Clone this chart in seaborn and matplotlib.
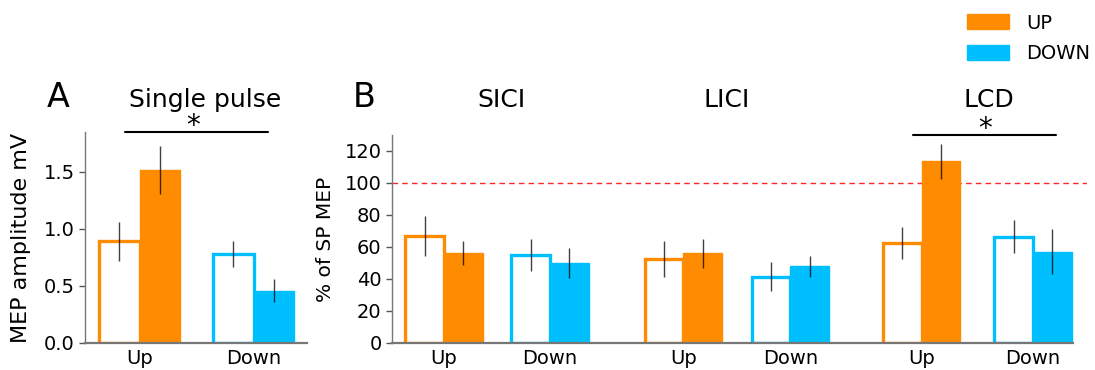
import matplotlib.pyplot as plt
import matplotlib.transforms as mtransforms
from matplotlib.patches import Patch
import seaborn as sns

UP_COLOR = '#ff8c00'
DOWN_COLOR = '#00bfff'

# Panel A: single pulse MEP amplitude (mV), open = pre, filled = post
sp_groups = ['Up', 'Down']
sp_pre = [0.89, 0.78]
sp_pre_err = [0.17, 0.11]
sp_post = [1.52, 0.46]
sp_post_err = [0.21, 0.10]

# Panel B: paired pulse MEP as % of single pulse MEP
pp_protocols = ['SICI', 'LICI', 'LCD']
pp_groups = ['Up', 'Down', 'Up', 'Down', 'Up', 'Down']
pp_pre = [67, 55, 52.5, 41.5, 62.5, 66.5]
pp_pre_err = [12.5, 10, 11, 9, 10, 10.5]
pp_post = [56.5, 50, 56, 48, 113.5, 57]
pp_post_err = [7.5, 9.5, 9, 6.5, 11, 14]

# layout (bar pair centres along x)
sp_centers = [0, 1]
pp_centers = [0, 1.01, 2.28, 3.3, 4.55, 5.61]
pp_title_x = [0.55, 2.69, 5.19]


def draw_pairs(ax, centers, groups, pre, pre_err, post, post_err, width):
    colors = [UP_COLOR if g == 'Up' else DOWN_COLOR for g in groups]
    left = [c - width / 2 for c in centers]
    right = [c + width / 2 for c in centers]
    ax.bar(left, pre, width, facecolor='white', edgecolor=colors, linewidth=2.4, zorder=2)
    ax.bar(right, post, width, color=colors, edgecolor=colors, linewidth=1, zorder=2)
    ax.errorbar(left, pre, yerr=pre_err, fmt='none', ecolor='black', elinewidth=1, alpha=0.75, zorder=3)
    ax.errorbar(right, post, yerr=post_err, fmt='none', ecolor='black', elinewidth=1, alpha=0.75, zorder=3)
    ax.set_xticks(centers)
    ax.set_xticklabels(groups)


sns.set_style('ticks')
plt.rcParams['font.family'] = ['DejaVu Sans']
plt.rcParams['text.color'] = 'black'
plt.rcParams['axes.labelcolor'] = 'black'
plt.rcParams['xtick.color'] = 'black'
plt.rcParams['ytick.color'] = 'black'

fig = plt.figure(figsize=(10.95, 3.7), dpi=100)
ax_a = fig.add_axes([85 / 1095, 27 / 370, 222 / 1095, 211 / 370])
ax_b = fig.add_axes([392 / 1095, 27 / 370, 695 / 1095, 208 / 370])

draw_pairs(ax_a, sp_centers, sp_groups, sp_pre, sp_pre_err, sp_post, sp_post_err, 0.355)
ax_a.set_xlim(-0.478, 1.469)
ax_a.set_ylim(0, 1.85)
ax_a.set_yticks([0, 0.5, 1.0, 1.5])
ax_a.set_ylabel('MEP amplitude mV', fontsize=16)
ax_a.yaxis.set_label_coords(-0.245, 0.5)

draw_pairs(ax_b, pp_centers, pp_groups, pp_pre, pp_pre_err, pp_post, pp_post_err, 0.367)
ax_b.set_xlim(-0.495, 6.124)
ax_b.set_ylim(0, 130)
ax_b.set_yticks(range(0, 121, 20))
ax_b.axhline(100, color='#ff0000', linestyle='--', linewidth=1, dashes=(4, 3), alpha=0.85, zorder=1)
ax_b.set_ylabel('% of SP MEP', fontsize=14.5)
ax_b.yaxis.set_label_coords(-0.082, 0.5)

for ax in (ax_a, ax_b):
    sns.despine(ax=ax)
    for side in ('left', 'bottom'):
        ax.spines[side].set_color('#777777')
    ax.spines['left'].set_linewidth(1)
    ax.spines['bottom'].set_linewidth(1.6)
    ax.tick_params(axis='y', labelsize=14, length=4, color='#555555', width=1)
    ax.tick_params(axis='x', labelsize=14, length=0, pad=4)
ax_b.spines['bottom'].set_bounds(-0.495, 5.99)

# titles and panel letters
title_y = 1 - 107 / 370
fig.text(205 / 1095, title_y, 'Single pulse', fontsize=18, ha='center', va='baseline')
fig.text(47 / 1095, title_y, 'A', fontsize=24, ha='left', va='baseline')
fig.text(353 / 1095, title_y, 'B', fontsize=24, ha='left', va='baseline')
title_trans = mtransforms.blended_transform_factory(ax_b.transData, fig.transFigure)
for name, x in zip(pp_protocols, pp_title_x):
    ax_b.text(x, title_y, name, fontsize=18, ha='center', va='baseline', transform=title_trans)

# significance bars
ax_a.plot([-0.127, 1.127], [1.85, 1.85], color='black', linewidth=1.5, clip_on=False)
ax_a.text(0.47, 1.83, '*', fontsize=20, ha='center', va='baseline')
ax_b.plot([4.467, 5.83], [130, 130], color='black', linewidth=1.5, clip_on=False)
ax_b.text(5.15, 129, '*', fontsize=20, ha='center', va='baseline')

fig.legend(handles=[Patch(color=UP_COLOR, label='UP'), Patch(color=DOWN_COLOR, label='DOWN')],
           loc='upper right', bbox_to_anchor=(1.006, 0.995), frameon=False, fontsize=14,
           handlelength=2.2, handleheight=0.8, labelspacing=0.6, borderaxespad=0.2,
           handletextpad=0.85)

fig.savefig('out.png', dpi=100)
